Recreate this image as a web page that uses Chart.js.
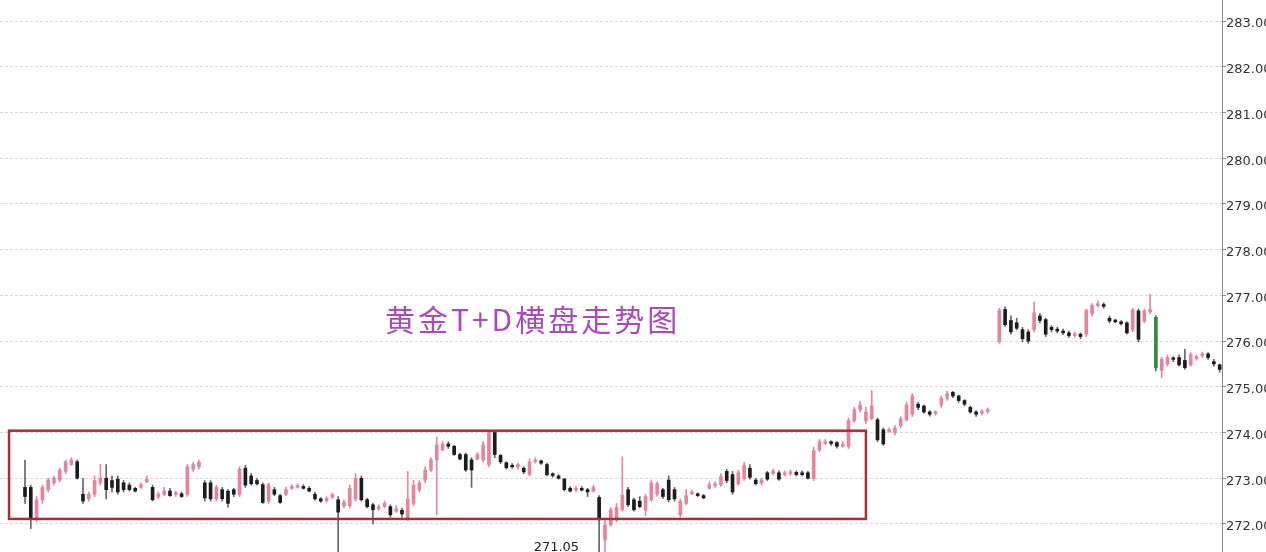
<!DOCTYPE html>
<html>
<head>
<meta charset="utf-8">
<title>黄金T+D横盘走势图</title>
<script src="https://cdn.jsdelivr.net/npm/chart.js@4.4.1/dist/chart.umd.min.js"></script>
<style>
  html, body { margin: 0; padding: 0; background: #fff; overflow: hidden; }
  #wrap { position: relative; width: 1300px; height: 552px; }
</style>
</head>
<body>
<div id="wrap"><canvas id="kline"></canvas></div>
<script>
// one candle per slot, null = empty slot (price gap)
const opens = [
  272.80,272.80,272.13,272.53,272.75,272.90,272.96,273.15,273.30,273.36,
  272.65,272.55,272.65,272.90,273.00,272.95,272.98,272.90,272.85,272.78,
  272.80,272.92,272.80,272.60,272.65,272.72,272.65,272.66,272.65,273.20,
  273.25,272.90,272.90,272.55,272.75,272.72,272.75,272.65,273.22,273.05,
  272.95,272.86,272.50,272.75,272.62,272.65,272.78,272.80,272.82,272.78,
  272.65,272.55,272.50,272.58,272.53,272.40,272.40,272.55,273.00,272.53,
  272.42,272.33,272.38,272.38,272.28,272.30,272.13,272.45,272.75,272.96,
  273.18,273.40,273.62,273.75,273.70,273.52,273.52,273.40,273.42,273.40,
  273.30,274.00,273.50,273.34,273.28,273.25,273.22,273.08,273.36,273.38,
  273.30,273.10,273.05,272.98,272.78,272.74,272.78,272.75,272.72,272.58,
  271.65,271.98,272.09,272.31,272.75,272.53,272.50,272.30,272.53,272.65,
  272.75,272.96,272.75,272.20,272.45,272.66,272.66,272.62,272.78,272.84,
  272.86,273.15,273.08,272.88,273.00,273.22,272.96,272.90,273.12,273.10,
  273.12,273.08,273.10,273.13,273.12,273.12,273.00,273.62,273.76,273.80,
  273.78,273.70,273.70,274.26,274.50,274.25,274.30,274.28,274.06,274.02,
  274.00,274.15,274.28,274.40,274.62,274.58,274.45,274.42,274.60,274.75,
  274.88,274.80,274.70,274.55,274.45,274.42,274.46,null,
  275.99,276.69,276.45,276.40,276.25,276.20,276.25,276.55,276.47,276.30,
  276.26,276.22,276.18,276.12,276.15,276.15,276.60,276.78,276.80,276.50,
  276.46,276.42,276.40,276.25,276.66,276.44,276.64,276.52,275.36,275.50,
  275.62,275.64,275.58,275.48,275.62,275.68,275.72,275.55,275.48
];
const highs = [
  273.40,272.85,272.60,272.85,273.00,273.05,273.22,273.40,273.45,273.40,
  273.00,272.70,273.05,273.30,273.30,273.05,273.05,272.95,272.90,272.80,
  272.90,273.05,272.85,272.70,272.80,272.78,272.72,272.70,273.30,273.35,
  273.40,272.95,272.95,272.85,272.80,272.75,272.78,273.25,273.28,273.10,
  273.00,272.90,272.90,272.80,272.65,272.80,272.86,272.88,272.86,272.82,
  272.70,272.58,272.60,272.68,272.60,272.52,272.85,273.10,273.05,272.56,
  272.45,272.42,272.50,272.42,272.40,272.35,273.15,272.95,272.95,273.25,
  273.45,273.90,273.80,273.80,273.72,273.55,273.55,273.45,273.56,273.80,
  274.05,274.05,273.52,273.36,273.32,273.33,273.25,273.42,273.45,273.40,
  273.33,273.12,273.08,273.00,272.82,272.82,272.82,272.78,272.85,272.62,
  272.09,272.36,272.45,273.47,272.80,272.56,272.60,272.65,272.96,272.92,
  272.78,273.05,272.80,272.55,272.75,272.74,272.68,272.65,272.92,272.92,
  273.10,273.20,273.15,273.18,273.35,273.30,273.00,273.00,273.15,273.20,
  273.16,273.16,273.18,273.16,273.16,273.15,273.68,273.85,273.85,273.82,
  273.80,273.80,274.32,274.55,274.68,274.55,274.92,274.32,274.10,274.10,
  274.15,274.35,274.66,274.85,274.66,274.60,274.48,274.48,274.80,274.90,
  274.90,274.82,274.72,274.58,274.48,274.50,274.54,null,
  276.72,276.75,276.55,276.50,276.30,276.25,276.86,276.60,276.50,276.34,
  276.30,276.26,276.22,276.20,276.18,276.70,276.82,276.88,276.84,276.55,
  276.48,276.45,276.42,276.72,276.70,276.70,277.02,276.56,275.65,275.70,
  275.66,275.70,275.82,275.75,275.70,275.76,275.75,275.60,275.50
];
const lows = [
  272.45,271.90,272.05,272.45,272.70,272.85,272.92,273.10,273.28,272.98,
  272.45,272.50,272.60,272.85,272.55,272.70,272.65,272.70,272.72,272.70,
  272.78,272.90,272.50,272.55,272.62,272.60,272.60,272.58,272.60,273.15,
  273.20,272.50,272.50,272.50,272.50,272.37,272.60,272.60,272.80,272.85,
  272.85,272.45,272.45,272.62,272.45,272.62,272.75,272.78,272.76,272.70,
  272.52,272.47,272.48,272.56,271.20,272.35,272.35,272.50,272.50,272.35,
  272.00,272.30,272.35,272.15,272.25,272.15,272.08,272.40,272.70,272.90,
  273.15,272.20,273.60,273.65,273.50,273.40,273.15,272.80,273.40,273.35,
  273.25,273.45,273.32,273.20,273.22,273.20,273.10,273.05,273.33,273.30,
  273.05,273.02,272.98,272.72,272.70,272.70,272.72,272.60,272.70,271.05,
  271.30,271.95,272.05,272.28,272.38,272.28,272.35,272.18,272.50,272.60,
  272.56,272.48,272.50,272.15,272.42,272.64,272.60,272.55,272.76,272.80,
  272.82,272.90,272.65,272.85,272.95,272.98,272.85,272.85,272.95,273.08,
  272.95,273.05,273.06,273.05,273.05,272.98,272.95,273.58,273.74,273.72,
  273.66,273.68,273.65,274.22,274.45,274.20,274.28,273.80,273.72,274.00,
  273.95,274.10,274.25,274.35,274.50,274.42,274.36,274.38,274.55,274.70,
  274.76,274.66,274.58,274.42,274.35,274.38,274.42,null,
  275.95,276.32,276.15,276.25,275.98,275.95,276.20,276.40,276.10,276.20,
  276.18,276.14,276.08,276.08,276.05,276.10,276.55,276.74,276.72,276.40,
  276.40,276.35,276.15,276.20,275.98,276.40,276.60,275.35,275.20,275.45,
  275.55,275.45,275.38,275.45,275.58,275.64,275.60,275.45,275.32
];
const closes = [
  272.60,272.13,272.53,272.80,272.96,273.00,273.18,273.36,273.40,273.00,
  272.50,272.65,272.95,273.00,272.75,272.80,272.70,272.75,272.75,272.72,
  272.86,272.98,272.53,272.65,272.72,272.62,272.68,272.60,273.25,273.30,
  273.35,272.57,272.55,272.80,272.55,272.45,272.65,273.20,272.85,272.88,
  272.88,272.47,272.86,272.65,272.47,272.75,272.82,272.84,272.78,272.72,
  272.55,272.50,272.56,272.64,272.26,272.48,272.78,273.00,272.53,272.38,
  272.31,272.38,272.45,272.20,272.33,272.22,272.55,272.85,272.90,273.18,
  273.40,273.73,273.75,273.70,273.52,273.42,273.18,273.18,273.52,273.73,
  274.00,273.52,273.36,273.23,273.25,273.30,273.14,273.36,273.40,273.33,
  273.08,273.06,273.00,272.75,272.72,272.78,272.74,272.70,272.80,272.09,
  271.98,272.31,272.36,272.63,272.42,272.31,272.38,272.60,272.90,272.88,
  272.60,272.53,272.55,272.50,272.62,272.70,272.62,272.57,272.86,272.88,
  273.04,272.95,272.70,273.12,273.28,273.02,272.88,272.96,272.98,273.16,
  272.98,273.12,273.14,273.08,273.08,273.00,273.60,273.80,273.80,273.76,
  273.70,273.75,274.26,274.50,274.60,274.45,274.58,273.84,273.75,274.06,
  274.10,274.30,274.60,274.80,274.55,274.45,274.40,274.45,274.75,274.85,
  274.80,274.70,274.62,274.45,274.40,274.46,274.50,null,
  276.67,276.36,276.20,276.28,276.05,276.00,276.62,276.45,276.15,276.25,
  276.22,276.18,276.12,276.16,276.10,276.67,276.78,276.82,276.76,276.44,
  276.42,276.38,276.18,276.68,276.04,276.66,276.69,275.42,275.60,275.64,
  275.60,275.48,275.42,275.70,275.66,275.72,275.64,275.50,275.38
];
const yTicks = [272, 273, 274, 275, 276, 277, 278, 279, 280, 281, 282, 283];
// consolidation box: [first slot, last slot, low price, high price]
const boxRange = [-2.75, 145.0, 272.11, 274.04];
const chartTitle = '黄金T+D横盘走势图';

const UP = '#e5849a', DOWN = '#1c1c1c', DROP = '#2f8a3c';

const slots = opens.map((o, i) => i).filter(i => opens[i] != null);
const bodyData = slots.map(i => ({ x: i, y: [opens[i], closes[i]] }));
const wickData = slots.map(i => ({ x: i, y: [lows[i], highs[i]] }));

function candleColor(i) {
  if (closes[i] >= opens[i]) return UP;
  if (opens[i] - closes[i] > 1) return DROP;
  return DOWN;
}

const overlay = {
  id: 'overlay',
  afterDatasetsDraw(chart) {
    const { ctx, chartArea, scales: { x, y } } = chart;
    ctx.save();
    // red box round the flat range
    const x0 = x.getPixelForValue(boxRange[0]);
    const x1 = x.getPixelForValue(boxRange[1]);
    const y0 = y.getPixelForValue(boxRange[3]);
    const y1 = y.getPixelForValue(boxRange[2]);
    ctx.strokeStyle = '#a3303a';
    ctx.lineWidth = 2.5;
    ctx.strokeRect(x0, y0, x1 - x0, y1 - y0);

    // low price marker
    const valid = lows.filter(v => v != null);
    const lowVal = Math.min(...valid);
    const lowIdx = lows.indexOf(lowVal);
    ctx.fillStyle = '#222';
    ctx.font = '13px "DejaVu Sans"';
    ctx.textAlign = 'right';
    ctx.textBaseline = 'top';
    ctx.fillText(lowVal.toFixed(2), x.getPixelForValue(lowIdx) - 20, chartArea.bottom - 11);

    // title
    ctx.font = '30px "Noto Sans CJK SC"';
    ctx.fillStyle = '#a94bbb';
    ctx.textAlign = 'left';
    ctx.textBaseline = 'middle';
    ctx.letterSpacing = '3px';
    ctx.fillText(chartTitle, chartArea.left + 385, 320);
    ctx.restore();
  }
};

new Chart(document.getElementById('kline'), {
  type: 'bar',
  data: {
    datasets: [
      {
        label: 'body',
        data: bodyData,
        grouped: false,
        barThickness: 3,
        minBarLength: 1.5,
        borderWidth: 0,
        backgroundColor: ctx => candleColor(ctx.raw.x)
      },
      {
        label: 'wick',
        data: wickData,
        grouped: false,
        barThickness: 1,
        borderWidth: 0,
        backgroundColor: ctx => closes[ctx.raw.x] >= opens[ctx.raw.x] ? '#e08a9c' : '#666'
      }
    ]
  },
  options: {
    responsive: true,
    maintainAspectRatio: false,
    animation: false,
    layout: { padding: 0 },
    plugins: { legend: { display: false }, tooltip: { enabled: false } },
    scales: {
      x: {
        type: 'linear',
        offset: false,
        bounds: 'ticks',
        min: -4.31,
        max: 206.4,
        display: false
      },
      y: {
        position: 'right',
        min: 271.387,
        max: 283.46,
        afterFit(scale) {
          scale.width = 78;
          scale.paddingTop = 0;
          scale.paddingBottom = 0;
        },
        afterBuildTicks(scale) { scale.ticks = yTicks.map(v => ({ value: v })); },
        grid: {
          color: '#dadada',
          tickLength: 4,
          tickColor: '#888'
        },
        border: { display: true, color: '#888', width: 1, dash: [3, 2] },
        ticks: {
          padding: 0,
          labelOffset: 3,
          color: '#333',
          font: { family: 'DejaVu Sans', size: 13 },
          callback: v => Number(v).toFixed(2)
        }
      }
    }
  },
  plugins: [overlay]
});
</script>
</body>
</html>
